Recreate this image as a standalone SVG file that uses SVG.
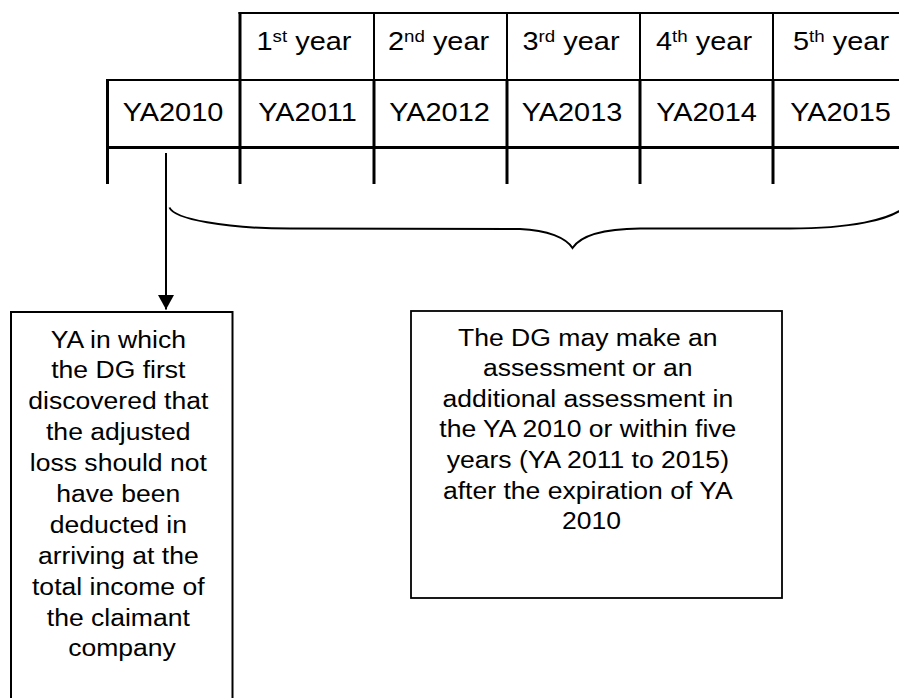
<svg xmlns="http://www.w3.org/2000/svg" width="899" height="698" viewBox="0 0 899 698">
  <style>
    .grid { stroke: #000; fill: none; stroke-linecap: butt; }
    .thin { stroke-width: 2; }
    .thick { stroke-width: 3; }
    .cell { font-family: "Liberation Sans", Arial, sans-serif; font-size: 25.6px; fill: #000; text-anchor: middle; }
    .sup { font-size: 16.6px; }
    .box { fill: #fff; stroke: #000; stroke-width: 2; }
    .boxtext { font-family: "Liberation Sans", Arial, sans-serif; font-size: 23.5px; fill: #000; text-anchor: middle; }
    .conn { stroke: #000; stroke-width: 2; fill: none; }
  </style>
  <defs>
    <marker id="arrowhead" markerWidth="15" markerHeight="16" refX="14.5" refY="8" orient="auto" markerUnits="userSpaceOnUse" viewBox="0 0 15 16">
      <path d="M0,0 L14.5,8 L0,16 Z" fill="#000"/>
    </marker>
  </defs>

  <rect width="899" height="698" fill="#fff"/>

  <!-- year table -->
  <g id="year-table">
    <!-- horizontal rules -->
    <line class="grid thin" x1="238.5" y1="13" x2="905" y2="13"/>
    <line class="grid thin" x1="106" y1="80" x2="905" y2="80"/>
    <line class="grid thick" x1="106" y1="147.5" x2="905" y2="147.5"/>
    <!-- vertical rules: header row -->
    <line class="grid thick" x1="240" y1="12" x2="240" y2="184"/>
    <line class="grid thin" x1="374" y1="12" x2="374" y2="80"/>
    <line class="grid thin" x1="507" y1="12" x2="507" y2="80"/>
    <line class="grid thin" x1="640" y1="12" x2="640" y2="80"/>
    <line class="grid thin" x1="773" y1="12" x2="773" y2="80"/>
    <!-- vertical rules: lower rows -->
    <line class="grid thick" x1="107.5" y1="79" x2="107.5" y2="184"/>
    <line class="grid thick" x1="374" y1="80" x2="374" y2="184"/>
    <line class="grid thick" x1="507" y1="80" x2="507" y2="184"/>
    <line class="grid thick" x1="640" y1="80" x2="640" y2="184"/>
    <line class="grid thick" x1="773" y1="80" x2="773" y2="184"/>

    <!-- header row -->
    <text class="cell" transform="translate(304 50) scale(1.13 1)">1<tspan class="sup" dy="-8.4">st</tspan><tspan dy="8.4"> year</tspan></text>
    <text class="cell" transform="translate(438.5 50) scale(1.13 1)">2<tspan class="sup" dy="-8.4">nd</tspan><tspan dy="8.4"> year</tspan></text>
    <text class="cell" transform="translate(571 50) scale(1.13 1)">3<tspan class="sup" dy="-8.4">rd</tspan><tspan dy="8.4"> year</tspan></text>
    <text class="cell" transform="translate(704 50) scale(1.13 1)">4<tspan class="sup" dy="-8.4">th</tspan><tspan dy="8.4"> year</tspan></text>
    <text class="cell" transform="translate(841 50) scale(1.13 1)">5<tspan class="sup" dy="-8.4">th</tspan><tspan dy="8.4"> year</tspan></text>

    <!-- year of assessment row -->
    <text class="cell" transform="translate(173 121) scale(1.13 1)">YA2010</text>
    <text class="cell" transform="translate(307.5 121) scale(1.13 1)">YA2011</text>
    <text class="cell" transform="translate(439.5 121) scale(1.13 1)">YA2012</text>
    <text class="cell" transform="translate(572 121) scale(1.13 1)">YA2013</text>
    <text class="cell" transform="translate(706.5 121) scale(1.13 1)">YA2014</text>
    <text class="cell" transform="translate(840.5 121) scale(1.13 1)">YA2015</text>
  </g>

  <!-- connectors: arrow to the discovery box and brace over the five years -->
  <g id="connectors">
    <line class="conn" x1="166" y1="153" x2="166" y2="309.5" marker-end="url(#arrowhead)"/>
    <path class="conn" d="M169.5,207.5 C174,219 225,228.5 290,228.5 L520,229 C548,230 566,238 572.5,248 C579,238 598,229 640,228.5 L790,228.5 C850,228.5 890,220 905,207"/>
  </g>

  <!-- discovery year box -->
  <g id="discovery-box">
    <rect class="box" x="11" y="312" width="221.5" height="400"/>
    <text class="boxtext" transform="translate(122 347.5) scale(1.13 1)">
      <tspan x="0" y="0">YA in which</tspan>
      <tspan x="0" dy="30.9">the DG first</tspan>
      <tspan x="0" dy="30.9">discovered that</tspan>
      <tspan x="0" dy="30.9">the adjusted</tspan>
      <tspan x="0" dy="30.9">loss should not</tspan>
      <tspan x="0" dy="30.9">have been</tspan>
      <tspan x="0" dy="30.9">deducted in</tspan>
      <tspan x="0" dy="30.9">arriving at the</tspan>
      <tspan x="0" dy="30.9">total income of</tspan>
      <tspan x="0" dy="30.9">the claimant</tspan>
      <tspan x="0" dy="30.9">company</tspan>
    </text>
  </g>

  <!-- assessment period box -->
  <g id="assessment-box">
    <rect class="box" x="411" y="311" width="371" height="287" style="stroke-width:1.8"/>
    <text class="boxtext" transform="translate(591.5 345.7) scale(1.13 1)">
      <tspan x="0" y="0">The DG may make an</tspan>
      <tspan x="0" dy="30.6">assessment or an</tspan>
      <tspan x="0" dy="30.6">additional assessment in</tspan>
      <tspan x="0" dy="30.6">the YA 2010 or within five</tspan>
      <tspan x="0" dy="30.6">years (YA 2011 to 2015)</tspan>
      <tspan x="0" dy="30.6">after the expiration of YA</tspan>
      <tspan x="0" dy="30.6">2010</tspan>
    </text>
  </g>
</svg>
